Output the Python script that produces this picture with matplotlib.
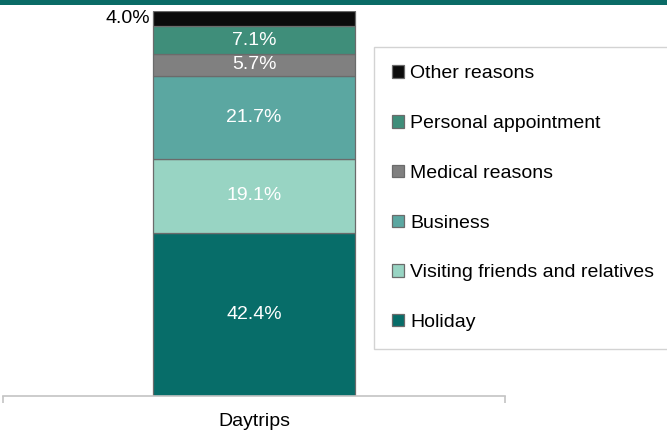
import matplotlib.pyplot as plt
from matplotlib.patches import Rectangle

plt.rcParams['font.family'] = ['Liberation Sans', 'DejaVu Sans']

# Reasons for daytrips, stacked from the bottom up
reasons = ["Holiday", "Visiting friends and relatives", "Business",
           "Medical reasons", "Personal appointment", "Other reasons"]
shares = [42.4, 19.1, 21.7, 5.7, 7.1, 4.0]
colors = ["#076D69", "#98D4C3", "#5BA7A1", "#808080", "#3F8E7A", "#0B0B0B"]
category = "Daytrips"

fig = plt.figure(figsize=(6.67, 4.30), dpi=100)
ax = fig.add_axes([3 / 667, 34 / 430, 502 / 667, 385 / 430])

# teal strip along the top edge
fig.patches.append(Rectangle((0, 1 - 5 / 430), 1, 5 / 430, transform=fig.transFigure,
                             facecolor="#0A6B66", edgecolor="none"))

bottom = 0
handles = []
for name, val, col in zip(reasons, shares, colors):
    b = ax.bar(0, val, width=0.402, bottom=bottom, color=col,
               edgecolor="#6b6b6b", linewidth=0.9, label=name)
    handles.append(b)
    if name == "Other reasons":
        ax.text(-0.207, bottom + val / 2, f"{val:.1f}%", ha="right", va="center",
                fontsize=14, color="black")
    else:
        ax.text(0, bottom + val / 2, f"{val:.1f}%", ha="center", va="center",
                fontsize=14, color="white")
    bottom += val

ax.set_xlim(-0.5, 0.5)
ax.set_ylim(0, 100)
for s in ["top", "left", "right"]:
    ax.spines[s].set_visible(False)
ax.spines["bottom"].set_color("#C4C4C4")
ax.spines["bottom"].set_linewidth(1.2)
ax.set_yticks([])
ax.set_xticks([0])
ax.set_xticklabels([category], fontsize=14)
ax.tick_params(axis="x", which="major", length=0, pad=12)
ax.set_xticks([-0.5, 0.5], minor=True)
ax.tick_params(axis="x", which="minor", length=5, color="#C4C4C4", width=1.2)

leg = fig.legend(handles[::-1], reasons[::-1], loc="upper left",
                 bbox_to_anchor=(374 / 667, 1 - 47 / 430), borderaxespad=0,
                 fontsize=14, handlelength=0.6, handleheight=0.6,
                 handletextpad=0.3, labelspacing=1.68, borderpad=0.95,
                 fancybox=False, frameon=True)
leg.get_frame().set_edgecolor("#C8C8C8")
leg.get_frame().set_linewidth(1.0)

fig.savefig("out.png", dpi=100)
